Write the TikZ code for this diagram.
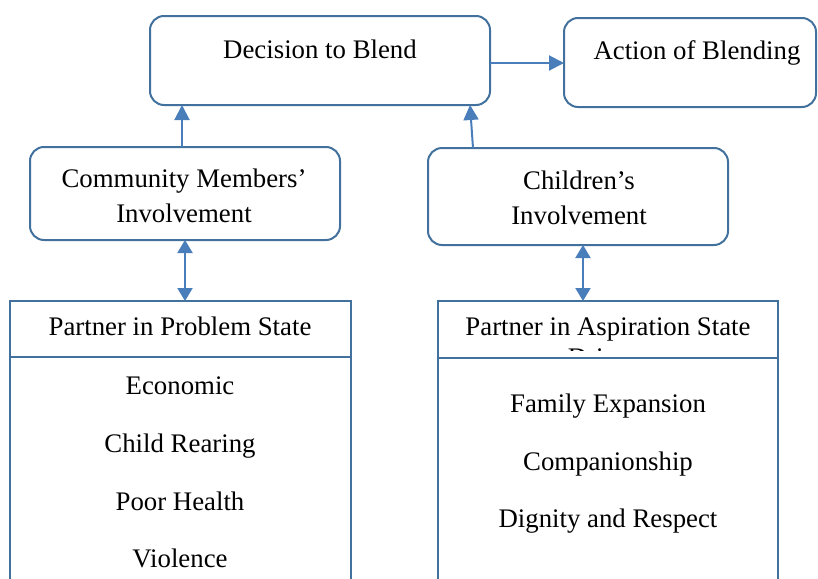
\documentclass[tikz,border=0pt]{standalone}
\usepackage{fontspec}
\setmainfont{Liberation Serif}
\usetikzlibrary{arrows.meta}
\definecolor{boxline}{HTML}{41719C}
\definecolor{arrowline}{HTML}{4A7EBB}
\begin{document}
\begin{tikzpicture}[x=0.5pt,y=-0.5pt,
  roundbox/.style={draw=boxline,line width=1pt,rounded corners=7pt,fill=white,
    inner sep=0pt,outer sep=0pt},
  listbox/.style={draw=boxline,line width=1pt,fill=white,inner sep=0pt,outer sep=0pt},
  label/.style={anchor=base,inner sep=0pt,font=\fontsize{13.4}{16}\selectfont},
  arr/.style={draw=arrowline,line width=1pt,-{Triangle[length=7.5pt,width=7.5pt]},
    arrowline},
  dblarr/.style={draw=arrowline,line width=1pt,
    {Triangle[length=6.5pt,width=7.5pt]}-{Triangle[length=6.5pt,width=7.5pt]},arrowline}]
\useasboundingbox (0,0) rectangle (818,578);
\clip (0,0) rectangle (818,578);

% top row
\node[roundbox,minimum width=170pt,minimum height=44.5pt] (dec) at (320,60.5) {};
\node[label] (decT) at (320,58) {Decision to Blend};
\node[roundbox,minimum width=126pt,minimum height=44.5pt] (act) at (690,62.5) {};
\node[label] (actT) at (697,59) {Action of Blending};

% involvement boxes
\node[roundbox,minimum width=155pt,minimum height=46.5pt] (comm) at (185,193.5) {};
\node[label] (commT1) at (184,187) {Community Members’};
\node[label] (commT2) at (184,222) {Involvement};
\node[roundbox,minimum width=150pt,minimum height=48.5pt] (child) at (578,196.5) {};
\node[label] (childT1) at (579,189) {Children’s};
\node[label] (childT2) at (579,224) {Involvement};

% list boxes
\node[listbox,minimum width=170.5pt,minimum height=149.5pt] (prob) at (180.5,450.5) {};
\coordinate (sepA) at (0,357);
\draw[boxline,line width=1pt] (prob.west |- sepA) -- (prob.east |- sepA);
\node[label] (probT) at (180,335) {Partner in Problem State};
\node[label] (p1) at (180,394) {Economic};
\node[label] (p2) at (180,452) {Child Rearing};
\node[label] (p3) at (180,510) {Poor Health};
\node[label] (p4) at (180,567) {Violence};

\node[listbox,minimum width=170pt,minimum height=149.5pt] (asp) at (608,450.5) {};
\coordinate (sepB) at (0,358);
\draw[boxline,line width=1pt] (asp.west |- sepB) -- (asp.east |- sepB);
\node[label] (aspT) at (608,335) {Partner in Aspiration State};
\begin{scope}
  \clip (440,302) rectangle (776,350);
  \node[label] (aspT2) at (608,366) {Drivers};
\end{scope}
\node[label] (a1) at (608,412) {Family Expansion};
\node[label] (a2) at (608,470) {Companionship};
\node[label] (a3) at (608,527) {Dignity and Respect};

% connectors
\coordinate (xA) at (182,0);
\coordinate (xB1) at (473,0);
\coordinate (xB2) at (470,0);
\coordinate (xC) at (185,0);
\coordinate (xD) at (583,0);
\coordinate (yE) at (0,63);
\draw[arr] (comm.north -| xA) -- (dec.south -| xA);
\draw[arr] (child.north -| xB1) -- (dec.south -| xB2);
\draw[arr] (dec.east |- yE) -- (act.west |- yE);
\draw[dblarr] (comm.south -| xC) -- (prob.north -| xC);
\draw[dblarr] (child.south -| xD) -- (asp.north -| xD);
\end{tikzpicture}
\end{document}
